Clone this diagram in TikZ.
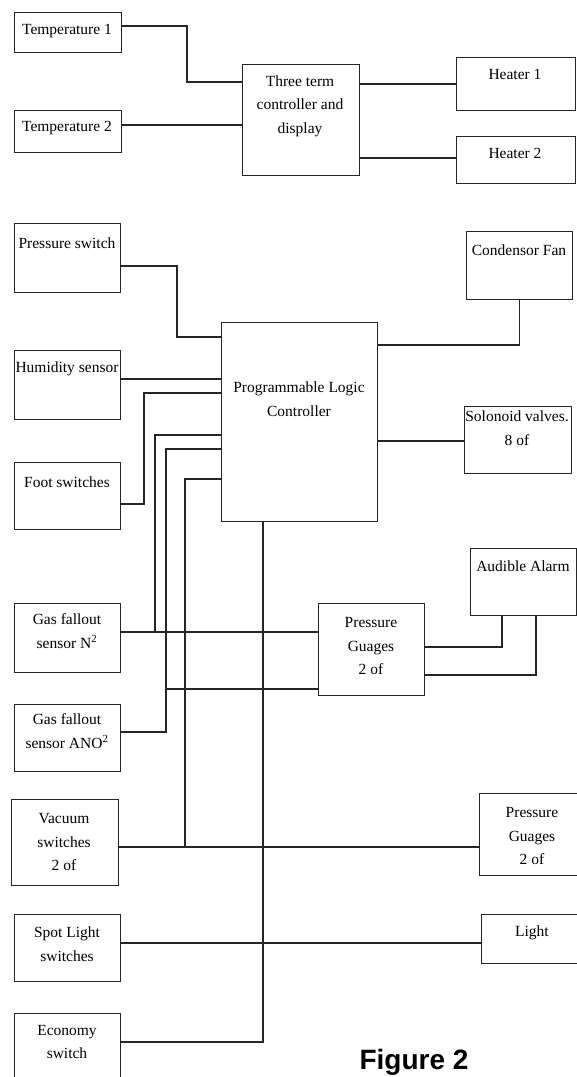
\documentclass[tikz,border=0pt]{standalone}
\usepackage{fontspec}
\setmainfont{Liberation Serif}
\newfontfamily\capfont{Liberation Sans}
\begin{document}
\begin{tikzpicture}[x=1pt,y=-1pt,
  box/.style={draw=black!85,line width=1.3pt,inner sep=0pt,anchor=north west,rectangle},
  txt/.style={font=\fontsize{15.5}{23.5}\selectfont,align=center,inner sep=0pt},
  wire/.style={draw=black!85,line width=1.3pt}]
\useasboundingbox (0,0) rectangle (577,1077);
\fill[white] (0,0) rectangle (577,1077);
\begin{scope}
\clip (0,0) rectangle (577,1077);
% boxes
\node[box,minimum width=107pt,minimum height=40pt] (temp1) at (14,12) {};
\node[box,minimum width=107pt,minimum height=42pt] (temp2) at (14,110) {};
\node[box,minimum width=117pt,minimum height=111pt] (three) at (242,64) {};
\node[box,minimum width=119pt,minimum height=53pt] (heat1) at (456,57) {};
\node[box,minimum width=119pt,minimum height=47pt] (heat2) at (456,136) {};
\node[box,minimum width=106pt,minimum height=69pt] (press) at (14,223) {};
\node[box,minimum width=106pt,minimum height=69pt] (humid) at (14,350) {};
\node[box,minimum width=106pt,minimum height=67pt] (foot) at (14,462) {};
\node[box,minimum width=156pt,minimum height=199pt] (plc) at (221,322) {};
\node[box,minimum width=106pt,minimum height=68pt] (cfan) at (466,231) {};
\node[box,minimum width=107pt,minimum height=67pt] (solv) at (464,406) {};
\node[box,minimum width=106pt,minimum height=69pt] (gasN) at (14,603) {};
\node[box,minimum width=106pt,minimum height=67pt] (gasA) at (14,704) {};
\node[box,minimum width=106pt,minimum height=92pt] (pg1) at (318,603) {};
\node[box,minimum width=106pt,minimum height=67pt] (alarm) at (470,548) {};
\node[box,minimum width=107pt,minimum height=86pt] (vac) at (11,799) {};
\node[box,minimum width=120pt,minimum height=82pt] (pg2) at (479,793) {};
\node[box,minimum width=120pt,minimum height=49pt] (light) at (481,914) {};
\node[box,minimum width=106pt,minimum height=67pt] (spot) at (14,914) {};
\node[box,minimum width=106pt,minimum height=90pt] (econ) at (14,1013) {};
% texts
\node[txt] (temp1t) at (67,31) {Temperature 1};
\node[txt] (temp2t) at (67,128) {Temperature 2};
\node[txt] (threet) at (300,106) {Three term\\controller and\\display};
\node[txt] (heat1t) at (515,74) {Heater 1};
\node[txt] (heat2t) at (515,153) {Heater 2};
\node[txt] (presst) at (67,243) {Pressure switch};
\node[txt] (humidt) at (67,369) {Humidity sensor};
\node[txt] (foott) at (67,482) {Foot switches};
\node[txt] (plct) at (299,399) {Programmable Logic\\Controller};
\node[txt] (cfant) at (519,250) {Condensor Fan};
\node[txt] (solvt) at (517,428) {Solonoid valves.\\8 of};
\node[txt] (gasNt) at (67,631) {Gas fallout\\sensor N\textsuperscript{2}};
\node[txt] (gasAt) at (67,731) {Gas fallout\\sensor ANO\textsuperscript{2}};
\node[txt] (pg1t) at (371,646) {Pressure\\Guages\\2 of};
\node[txt] (alarmt) at (523,566) {Audible Alarm};
\node[txt] (vact) at (64,842) {Vacuum\\switches\\2 of};
\node[txt] (pg2t) at (532,836) {Pressure\\Guages\\2 of};
\node[txt] (spott) at (67,944) {Spot Light\\switches};
\node[txt] (lightt) at (532,933) {Light};
\node[txt] (econt) at (67,1042) {Economy\\switch};
\node[font=\capfont\bfseries\fontsize{28}{30}\selectfont,anchor=base,inner sep=0pt] (fig) at (414,1069) {Figure 2};
% connectors
\draw[wire] (temp1.east |- 0,26) -| (187,82) -- (three.west |- 0,82);
\draw[wire] (temp2.east |- 0,125) -- (three.west |- 0,125);
\draw[wire] (three.east |- 0,84) -- (heat1.west |- 0,84);
\draw[wire] (three.east |- 0,158) -- (heat2.west |- 0,158);
\draw[wire] (press.east |- 0,266) -| (177,337) -- (plc.west |- 0,337);
\draw[wire] (humid.east |- 0,379) -- (plc.west |- 0,379);
\draw[wire] (foot.east |- 0,504) -| (144,393) -- (plc.west |- 0,393);
\coordinate (jN) at (155,632);
\coordinate (jA) at (166,689);
\coordinate (jV) at (185,847);
\draw[wire] (gasN.east |- 0,632) -- (pg1.west |- 0,632);
\draw[wire] (jN) |- (plc.west |- 0,435);
\draw[wire] (gasA.east |- 0,732) -| (166,449) -- (plc.west |- 0,449);
\draw[wire] (jA) -- (pg1.west |- 0,689);
\draw[wire] (vac.east |- 0,847) -- (pg2.west |- 0,847);
\draw[wire] (jV) |- (plc.west |- 0,479);
\draw[wire] (spot.east |- 0,943) -- (light.west |- 0,943);
\draw[wire] (econ.east |- 0,1042) -| (plc.south -| 263,0);
\draw[wire] (cfan.south) |- (plc.east |- 0,345);
\draw[wire] (plc.east |- 0,441) -- (solv.west |- 0,441);
\draw[wire] (pg1.east |- 0,647) -| (alarm.south -| 502,0);
\draw[wire] (pg1.east |- 0,675) -| (alarm.south -| 536,0);
\end{scope}
\end{tikzpicture}
\end{document}
